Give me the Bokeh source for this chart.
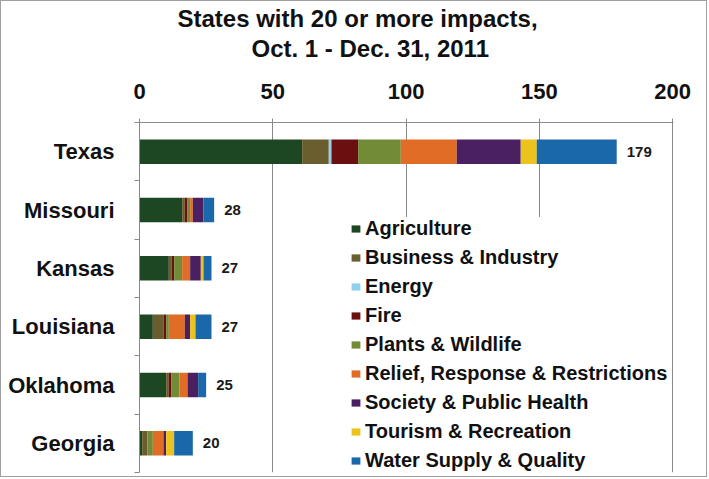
from bokeh.plotting import figure
from bokeh.models import ColumnDataSource, Range1d, FixedTicker, Legend, Title
from bokeh.core.properties import value
from bokeh.embed import file_html
from bokeh.resources import INLINE

states = ["Texas", "Missouri", "Kansas", "Louisiana", "Oklahoma", "Georgia"]
categories = ["Agriculture", "Business & Industry", "Energy", "Fire", "Plants & Wildlife",
              "Relief, Response & Restrictions", "Society & Public Health",
              "Tourism & Recreation", "Water Supply & Quality"]
agriculture = [61, 16, 11, 5, 10, 1]
business = [10, 1, 1, 4, 1, 2]
energy = [1, 0, 0, 0, 0, 0]
fire = [10, 1, 1, 1, 1, 0]
plants = [16, 1, 3, 1, 3, 2]
relief = [21, 1, 3, 6, 3, 4]
society = [24, 4, 4, 2, 4, 1]
tourism = [6, 0, 1, 2, 0, 3]
water = [30, 4, 3, 6, 3, 7]
totals = [179, 28, 27, 27, 25, 20]
x_ticks = [0, 50, 100, 150, 200]
title_lines = ["States with  20 or more impacts,", "Oct. 1 - Dec. 31, 2011"]

colors = ["#1d4722", "#6b5e2e", "#91cfee", "#6b0f10", "#718b36",
          "#e06c26", "#4b2062", "#ecc31c", "#1a68a9"]

FONT = "Liberation Sans"
GRAY = "#8a8a8a"

ypos = [i + 0.5 for i in range(len(states))]
keys = ["c%d" % i for i in range(len(categories))]
data = dict(y=ypos, total=totals, label=[str(t) for t in totals])
for k, series in zip(keys, [agriculture, business, energy, fire, plants, relief, society, tourism, water]):
    data[k] = series
source = ColumnDataSource(data)

p = figure(width=707, height=477, output_backend="svg", toolbar_location=None,
           title=None,
           x_range=Range1d(0, 200.3), y_range=Range1d(len(states), 0),
           x_axis_location="above",
           min_border_left=138, min_border_right=35, min_border_top=121, min_border_bottom=6)
p.styles = {"border": "1px solid #a0a0a0"}
p.outline_line_color = None
p.background_fill_color = "white"
p.border_fill_color = "white"

renderers = p.hbar_stack(keys, y="y", height=0.42, color=colors, line_color=None, source=source)

p.text(x="total", y="y", text="label", source=source, x_offset=10,
       text_baseline="middle", text_align="left",
       text_font=value(FONT), text_font_size="15px", text_font_style="bold", text_color="#1a1a1a")

# x axis (top)
xa = p.xaxis[0]
xa.ticker = FixedTicker(ticks=x_ticks)
xa.axis_line_color = GRAY
xa.major_tick_line_color = GRAY
xa.major_tick_in = 4
xa.major_tick_out = 4
xa.minor_tick_line_color = None
xa.major_label_text_font = FONT
xa.major_label_text_font_size = "22px"
xa.major_label_text_font_style = "bold"
xa.major_label_text_color = "#111111"
xa.major_label_standoff = 20
xa.axis_label = " "
xa.axis_label_text_font_size = "1px"
xa.axis_label_standoff = 8

# y axis
ya = p.yaxis[0]
ya.ticker = FixedTicker(ticks=ypos, minor_ticks=list(range(len(states) + 1)))
ya.major_label_overrides = {y: s for y, s in zip(ypos, states)}
ya.axis_line_color = GRAY
ya.major_tick_line_color = None
ya.major_tick_in = 0
ya.major_tick_out = 0
ya.minor_tick_line_color = GRAY
ya.minor_tick_in = 0
ya.minor_tick_out = 5
ya.major_label_text_font = FONT
ya.major_label_text_font_size = "22px"
ya.major_label_text_font_style = "bold"
ya.major_label_text_color = "#111111"
ya.major_label_standoff = 20

p.xgrid.ticker = FixedTicker(ticks=x_ticks)
p.xgrid.grid_line_color = GRAY
p.ygrid.grid_line_color = None

# two-line title, each line centred on its own
t2 = Title(text=title_lines[1], align="left", offset=112, standoff=10, vertical_align="top",
           text_font=FONT, text_font_size="24px", text_font_style="bold", text_color="#111111")
t1 = Title(text=title_lines[0], align="left", offset=38, standoff=-4,
           text_font=FONT, text_font_size="24px", text_font_style="bold", text_color="#111111")
p.add_layout(t2, "above")
p.add_layout(t1, "above")

legend = Legend(items=[(c, [r]) for c, r in zip(categories, renderers)], location=(211, 0))
legend.background_fill_color = "white"
legend.background_fill_alpha = 1.0
legend.border_line_color = None
legend.label_text_font = FONT
legend.label_text_font_size = "20px"
legend.label_text_font_style = "bold"
legend.label_text_color = "#111111"
legend.label_height = 20
legend.glyph_height = 9
legend.glyph_width = 11
legend.spacing = 6
legend.padding = 2
legend.margin = 0
legend.label_standoff = 4
p.add_layout(legend)

open("out.html", "w").write(file_html(p, INLINE))
